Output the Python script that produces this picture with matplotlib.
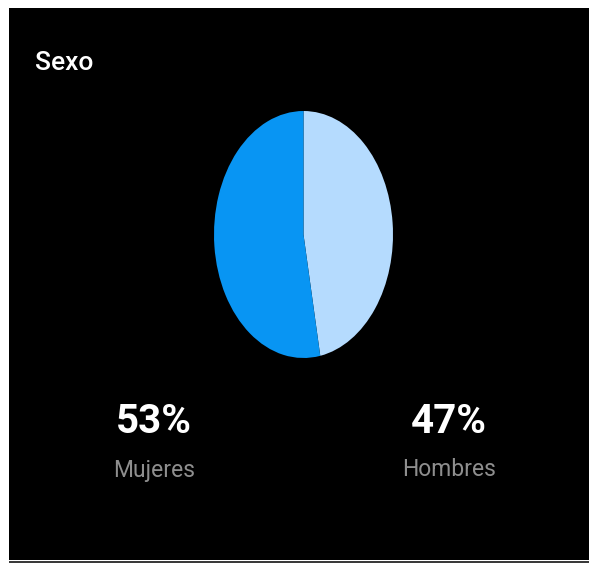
import matplotlib
matplotlib.use('Agg')
from matplotlib import pyplot as plt
from matplotlib.patches import Rectangle

# data
labels = ['Hombres', 'Mujeres']
values = [47, 53]
colors = ['#b5dbfe', '#0895f3']
title = 'Sexo'

W, H = 589, 565
fig = plt.figure(figsize=(W / 100, H / 100), dpi=100)
fig.patch.set_facecolor('white')

fam = 'Roboto'


def fx(px):
    return px / W


def fy(py):
    return 1 - py / H


# black card + thin grey line at the bottom
fig.patches.append(Rectangle((fx(9), fy(560)), 1 - fx(9), fy(8) - fy(560), zorder=-5,
                             transform=fig.transFigure, facecolor='black', edgecolor='none'))
fig.patches.append(Rectangle((fx(9), fy(563)), 1 - fx(9), fy(561) - fy(563), zorder=-5,
                             transform=fig.transFigure, facecolor='#3a3a3a', edgecolor='none'))

fig.text(fx(35), fy(63), title, color='white', fontsize=19, family=fam,
         weight='medium', ha='left', va='center')

# the pie is stretched into an ellipse
ax = fig.add_axes([fx(214), fy(358), fx(393) - fx(214), fy(111) - fy(358)])
ax.pie(values, colors=colors, startangle=90, counterclock=False,
       wedgeprops=dict(linewidth=0))
ax.set_aspect('auto')
ax.set_xlim(-1, 1)
ax.set_ylim(-1, 1)
ax.axis('off')

# percentages and names under the pie
xs = {'Mujeres': 154, 'Hombres': 449}
for lab, val in zip(labels, values):
    fig.text(fx(xs[lab]), fy(422), f'{val}%', color='white', fontsize=29,
             family=fam, weight='bold', ha='center', va='center')
    fig.text(fx(xs[lab]), fy(470), lab, color='#8e8e8e', fontsize=16.5,
             family=fam, ha='center', va='center')

plt.savefig('out.png', dpi=100, facecolor=fig.get_facecolor())
